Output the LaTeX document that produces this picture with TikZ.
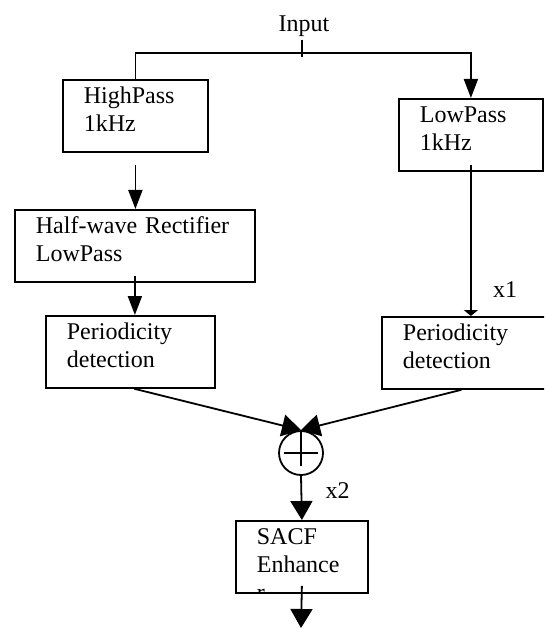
\documentclass[tikz,border=0pt]{standalone}
\usepackage{fontspec}
\setmainfont{Liberation Serif}
\usetikzlibrary{calc,arrows.meta}

\begin{document}
\begin{tikzpicture}[x=1pt, y=-1pt, line width=1.8pt, font=\fontsize{24}{28}\selectfont,
    blk/.style={draw, anchor=north west, align=left, inner xsep=21pt, inner ysep=8pt, text height=16pt, text depth=40pt},
    arr/.style={-{Triangle[length=19pt 0, width=14pt 0]}},
    arrbig/.style={-{Triangle[length=19pt 0, width=22pt 0]}},
    arrsum/.style={-{Triangle[length=19pt 0, width=22pt 0]}},
    arrshort/.style={-{Triangle[length=6pt 0, width=14pt 0]}}]
    \clip (0, 0) rectangle (544, 628);

    \node[anchor=base, inner sep=2pt] (inp) at (304, 31.7) {Input};
    \coordinate (split) at (302, 53);
    \coordinate (out) at (301, 628);

    \node[blk, text width=103pt] (hp) at (62, 79) {HighPass\\1kHz};
    \node[blk, text width=198pt] (hw) at (14, 209) {Half-wave Rectifier\\LowPass};
    \node[blk, text width=127pt] (pdl) at (45, 315) {Periodicity\\detection};
    \node[blk, text width=102pt] (lp) at (398, 98) {LowPass\\1kHz};
    \node[blk, text width=137pt] (pdr) at (381, 316) {Periodicity\\detection};
    \node[blk, text width=90pt] (sacf) at (235, 520) {SACF\\Enhance};
    \node[draw, circle, minimum size=44pt, inner sep=0pt] (sum) at (301, 453) {};

    % leftover of the wrapped word, cut by the box
    \begin{scope}
        \clip (sacf.north west) rectangle (sacf.south east);
        \node[anchor=base west, inner sep=0pt] (sacfr) at ($ (sacf.north west) + (21, 80) $) {r};
    \end{scope}

    \draw ($ (sum.center) + (-17, 0) $) -- ($ (sum.center) + (17, 0) $);
    \draw (sum.north) -- ($ (sum.center) + (0, 13) $);

    \draw (inp.south -| split) -- ($ (split) + (0, 4) $);
    \draw[arr] (hp.north) |- (split) -| (lp.north);
    \draw[arr] ($ (hp.south) + (0, 12) $) -- (hp.south |- hw.north);
    \draw[arr] ($ (hw.south) + (0, -7) $) -- (hw.south |- pdl.north);
    \draw[arrshort] ($ (lp.south) + (0, -7) $) -- (lp.south |- pdr.north);
    \draw[arrsum] ($ (pdl.south) + (4, 0) $) -- (sum.north);
    \draw[arrsum] ($ (pdr.south) + (-10, 0) $) -- (sum.north);
    \draw[arrbig] (sum.south) -- (sacf.north);
    \draw[arrbig] ($ (sacf.south) + (0, -8) $) -- (out);

    \node[anchor=base] (xone) at (505, 297) {x1};
    \node[anchor=base] (xtwo) at (337.5, 498) {x2};
\end{tikzpicture}
\end{document}
